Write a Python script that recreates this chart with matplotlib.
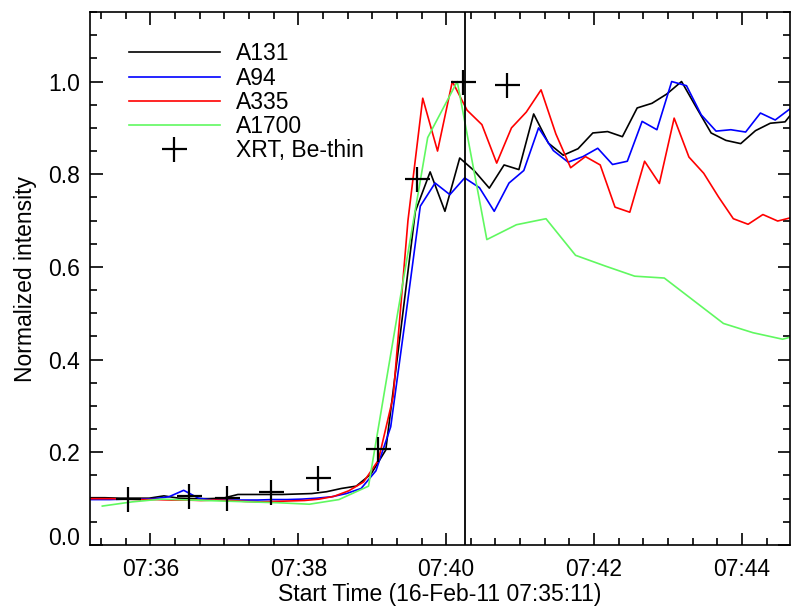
import matplotlib
matplotlib.use("Agg")
import matplotlib.pyplot as plt
import numpy as np
from matplotlib.ticker import MultipleLocator, FuncFormatter

plt.rcParams['font.family'] = ['Liberation Sans', 'DejaVu Sans']

# AIA channels: first sample time, cadence (s), normalized intensity
a131_start, a131_step = "07:35:11", 12
a131 = [0.102, 0.102, 0.101, 0.101, 0.101, 0.106, 0.101, 0.100, 0.100, 0.101,
        0.109, 0.109, 0.109, 0.109, 0.110, 0.111, 0.115, 0.122, 0.127, 0.153,
        0.205, 0.46, 0.72, 0.805, 0.720, 0.835, 0.807, 0.770, 0.820, 0.810,
        0.930, 0.867, 0.841, 0.855, 0.889, 0.892, 0.881, 0.943, 0.953, 0.973,
        1.000, 0.944, 0.889, 0.873, 0.866, 0.894, 0.910, 0.913, 0.953]

a94_start, a94_step = "07:35:03", 12
a94 = [0.098, 0.098, 0.098, 0.099, 0.099, 0.100, 0.104, 0.118, 0.101, 0.097,
       0.097, 0.097, 0.097, 0.098, 0.098, 0.099, 0.101, 0.104, 0.111, 0.122,
       0.160, 0.255, 0.49, 0.731, 0.781, 0.756, 0.792, 0.771, 0.720, 0.781,
       0.808, 0.900, 0.851, 0.826, 0.838, 0.856, 0.821, 0.828, 0.914, 0.896,
       1.000, 0.991, 0.928, 0.893, 0.896, 0.891, 0.932, 0.917, 0.941]

a335_start, a335_step = "07:35:05", 12
a335 = [0.100, 0.100, 0.100, 0.099, 0.098, 0.098, 0.097, 0.097, 0.096, 0.097,
        0.096, 0.094, 0.093, 0.094, 0.095, 0.096, 0.099, 0.105, 0.117, 0.136,
        0.183, 0.32, 0.70, 0.964, 0.850, 1.000, 0.938, 0.907, 0.824, 0.900,
        0.934, 0.982, 0.887, 0.814, 0.838, 0.820, 0.729, 0.718, 0.828, 0.780,
        0.921, 0.837, 0.802, 0.751, 0.704, 0.692, 0.713, 0.699, 0.707]

a1700_start, a1700_step = "07:35:21", 24
a1700 = [0.084, 0.093, 0.099, 0.097, 0.095, 0.093, 0.091, 0.088, 0.098, 0.127,
         0.506, 0.879, 1.000, 0.659, 0.691, 0.704, 0.625, 0.602, 0.580, 0.576,
         0.527, 0.478, 0.458, 0.444, 0.461]

# XRT Be-thin
xrt_times = ["07:35:42", "07:36:31", "07:37:02", "07:37:38", "07:38:16",
             "07:39:05", "07:39:36", "07:40:14", "07:40:49"]
xrt = [0.100, 0.106, 0.102, 0.114, 0.145, 0.208, 0.789, 1.000, 0.993]

peak_time = "07:40:15"
start_label = "07:35:11"
end_time = "07:44:39"
y_ticks = [0.0, 0.2, 0.4, 0.6, 0.8, 1.0]


def to_min(t):
    # minutes after 07:00
    h, m, s = (int(v) for v in t.split(":"))
    return (h - 7) * 60 + m + s / 60.0


def series_times(start, step, n):
    return to_min(start) + np.arange(n) * step / 60.0


fig = plt.figure(figsize=(7.91, 6.10), dpi=100)
ax = fig.add_axes([90 / 791, 65 / 610, 700 / 791, 533 / 610])

lw = 1.2
ax.plot(series_times(a131_start, a131_step, len(a131)), a131, color="black", lw=lw, label="A131")
ax.plot(series_times(a94_start, a94_step, len(a94)), a94, color="#0000ff", lw=lw, label="A94")
ax.plot(series_times(a335_start, a335_step, len(a335)), a335, color="#ff0000", lw=lw, label="A335")
ax.plot(series_times(a1700_start, a1700_step, len(a1700)), a1700, color="#60f860", lw=lw, label="A1700")
ax.plot([to_min(t) for t in xrt_times], xrt, linestyle="none", marker="+", ms=18, mew=1.6,
        color="black", label="XRT, Be-thin")
ax.axvline(to_min(peak_time), color="black", lw=1.3)

ax.set_xlim(to_min(start_label), to_min(end_time))
ax.set_ylim(0, 1.15)

ax.xaxis.set_major_locator(MultipleLocator(2))
ax.xaxis.set_minor_locator(MultipleLocator(1 / 3))
ax.xaxis.set_major_formatter(FuncFormatter(lambda x, pos: "07:%02d" % int(round(x))))
ax.set_yticks(y_ticks)
ax.yaxis.set_minor_locator(MultipleLocator(0.05))
ax.yaxis.set_major_formatter(FuncFormatter(lambda y, pos: "%.1f" % y))

ax.tick_params(which="both", direction="in", top=True, right=True, width=1.2, labelsize=16.5)
ax.tick_params(which="major", length=9)
ax.tick_params(which="minor", length=5)
ax.tick_params(axis="x", pad=9)
ax.tick_params(axis="y", pad=7)
for sp in ax.spines.values():
    sp.set_linewidth(1.2)

ax.set_xlabel("Start Time (16-Feb-11 07:35:11)", fontsize=16.5, labelpad=2)
ax.set_ylabel("Normalized intensity", fontsize=16.5, labelpad=8)

ax.legend(loc="upper left", bbox_to_anchor=(0.0557, 0.943), frameon=False, fontsize=16.5,
          handlelength=3.97, handletextpad=0.69, labelspacing=0.05, borderpad=0,
          borderaxespad=0, numpoints=1)

# IDL-style: bottom label sits on the axis rather than centred on it
ax.yaxis.get_major_ticks()[0].label1.set_verticalalignment("baseline")

fig.savefig("out.png", dpi=100)
